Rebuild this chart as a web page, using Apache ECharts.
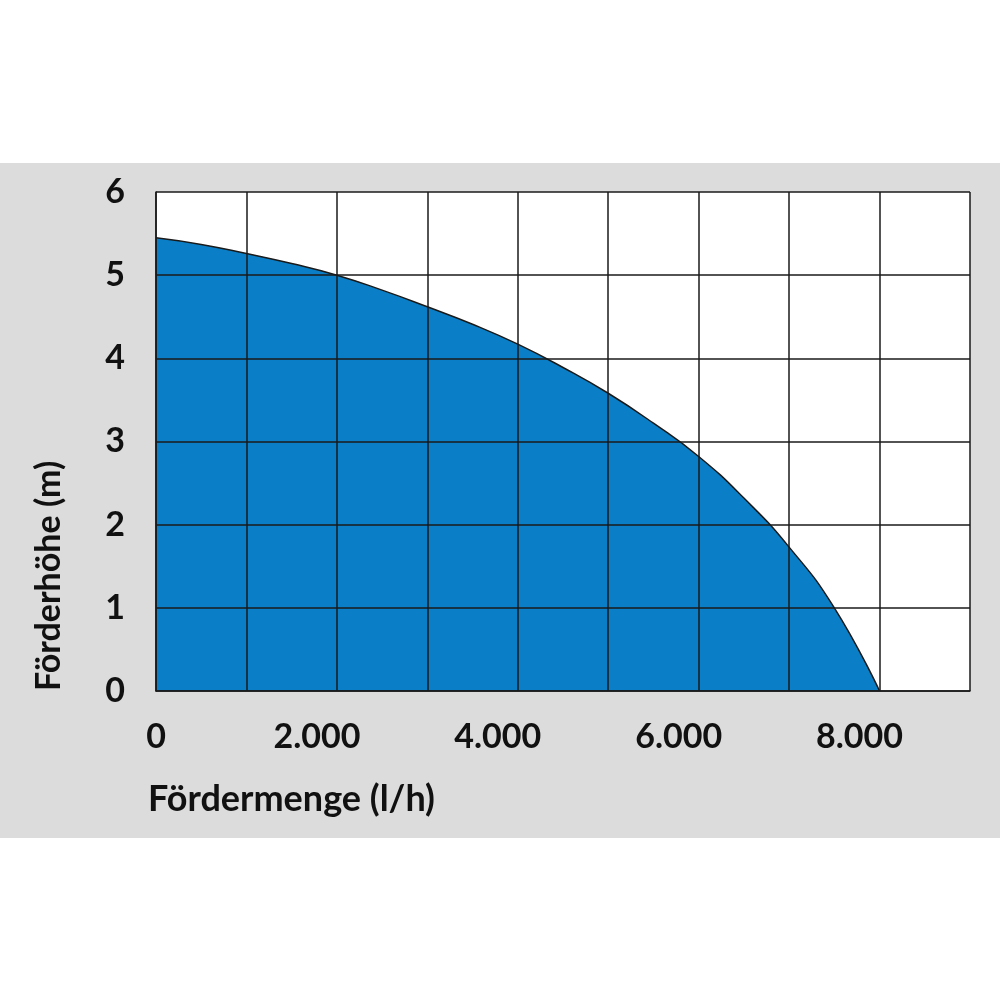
<!DOCTYPE html>
<html>
<head>
<meta charset="utf-8">
<script src="https://cdn.jsdelivr.net/npm/echarts@6/dist/echarts.min.js"></script>
<style>
html,body{margin:0;padding:0;background:#fff;}
#chart{width:1000px;height:1000px;}
</style>
</head>
<body>
<div id="chart"></div>
<script>
const flowValues = [0, 500, 1000, 1500, 2000, 2500, 3000, 3500, 4000, 4500, 5000, 5500, 6000, 6500, 7000, 7500, 8000];
const headValues = [5.45, 5.37, 5.26, 5.14, 5.0, 4.82, 4.62, 4.41, 4.17, 3.89, 3.58, 3.22, 2.82, 2.32, 1.73, 1.0, 0];
const xAxisName = 'Fördermenge (l/h)';
const yAxisName = 'Förderhöhe (m)';

const FONT = 'Lato, "DejaVu Sans", sans-serif';
const chart = echarts.init(document.getElementById('chart'));
const data = flowValues.map((x, i) => [x, headValues[i]]);

function fmtThousands(v) {
  return String(v).replace(/\B(?=(\d{3})+(?!\d))/g, '.');
}

chart.setOption({
  backgroundColor: '#ffffff',
  animation: false,
  graphic: [
    { type: 'rect', z: -10, shape: { x: 0, y: 163, width: 1000, height: 675 }, style: { fill: '#dcdcdc' } },
    { type: 'text', x: 148, y: 799, style: { text: xAxisName, font: 'bold 36px ' + FONT, fill: '#111', verticalAlign: 'middle', align: 'left' } },
    { type: 'text', x: 49, y: 691, rotation: Math.PI / 2, style: { text: yAxisName, font: 'bold 34px ' + FONT, fill: '#111', verticalAlign: 'middle', align: 'left' } }
  ],
  grid: { left: 156, top: 192, width: 814, height: 499, show: true, backgroundColor: '#ffffff', borderWidth: 0 },
  xAxis: {
    type: 'value', min: 0, max: 9000, interval: 1000, z: 10,
    axisLine: { show: true, lineStyle: { color: '#1a1a1a', width: 1.5 } },
    axisTick: { show: false },
    splitLine: { show: true, lineStyle: { color: '#1a1a1a', width: 1.5 } },
    axisLabel: {
      margin: 29, color: '#111', fontSize: 34, fontWeight: 'bold', fontFamily: FONT,
      formatter: v => v % 2000 !== 0 ? '' : (v === 0 ? '{z|0}' : '{s|' + fmtThousands(v) + '}'),
      rich: {
        z: { fontSize: 34, fontWeight: 'bold', fontFamily: FONT, color: '#111' },
        s: { fontSize: 34, fontWeight: 'bold', fontFamily: FONT, color: '#111', padding: [0, 40, 0, 0] }
      }
    }
  },
  yAxis: {
    type: 'value', min: 0, max: 6, interval: 1, z: 10,
    axisLine: { show: true, lineStyle: { color: '#1a1a1a', width: 1.5 } },
    axisTick: { show: false },
    splitLine: { show: true, lineStyle: { color: '#1a1a1a', width: 1.5 } },
    axisLabel: { margin: 31, color: '#111', fontSize: 34, fontWeight: 'bold', fontFamily: FONT }
  },
  series: [{
    type: 'line',
    data: data,
    smooth: 0.5,
    showSymbol: false,
    z: 2,
    lineStyle: { color: '#1a1a1a', width: 1.5 },
    areaStyle: { color: '#0a7fc7', opacity: 1 }
  }]
});
</script>
</body>
</html>
